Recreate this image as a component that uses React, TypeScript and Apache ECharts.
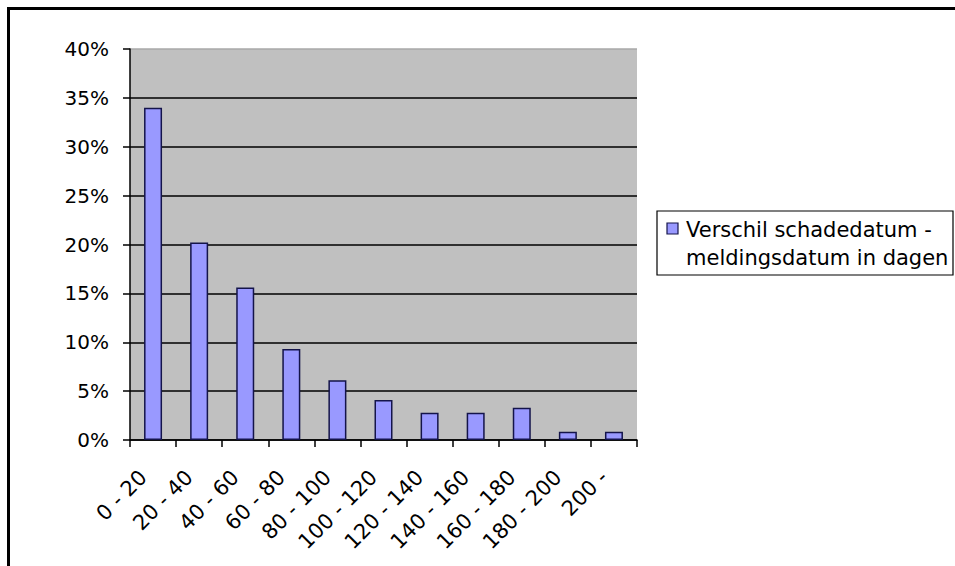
import React, { useEffect, useRef } from "react";
import * as echarts from "echarts";

// Day ranges between damage date and report date
const categories = [
  "0 - 20",
  "20 - 40",
  "40 - 60",
  "60 - 80",
  "80 - 100",
  "100 - 120",
  "120 - 140",
  "140 - 160",
  "160 - 180",
  "180 - 200",
  "200 -",
];

// Share of claims per range, in percent
const shares = [34, 20.2, 15.6, 9.3, 6.1, 4.1, 2.8, 2.8, 3.3, 0.85, 0.85];

const seriesName = "Verschil schadedatum - meldingsdatum in dagen";
const legendLines = ["Verschil schadedatum -", "meldingsdatum in dagen"];

const yMax = 40;
const yStep = 5;

const FONT = "DejaVu Sans";
const BAR_FILL = "#9999FF";
const BAR_EDGE = "#14144a";

export default function App() {
  const ref = useRef<HTMLDivElement>(null);

  useEffect(() => {
    if (!ref.current) return;
    const chart = echarts.init(ref.current, null, { renderer: "svg" });

    const gridLineColors = Array.from({ length: yMax / yStep + 1 }, (_, i) =>
      i === yMax / yStep ? "#a8a8a8" : "#000000"
    );

    chart.setOption({
      animation: false,
      backgroundColor: "#ffffff",
      grid: {
        left: 130,
        top: 49,
        right: 318,
        bottom: 126,
        show: true,
        backgroundColor: "#C0C0C0",
        borderWidth: 0,
        containLabel: false,
      },
      xAxis: {
        type: "category",
        data: categories,
        boundaryGap: true,
        axisLine: { show: true, lineStyle: { color: "#000", width: 1.5 } },
        axisTick: {
          show: true,
          length: 7,
          alignWithLabel: false,
          interval: 0,
          lineStyle: { color: "#000", width: 1.5 },
        },
        axisLabel: {
          interval: 0,
          rotate: 45,
          margin: 24,
          padding: [0, 14, 0, 0],
          fontFamily: FONT,
          fontSize: 21,
          color: "#000",
        },
        splitLine: { show: false },
      },
      yAxis: {
        type: "value",
        min: 0,
        max: yMax,
        interval: yStep,
        axisLine: { show: true, lineStyle: { color: "#000", width: 1.5 } },
        axisTick: { show: true, length: 7, lineStyle: { color: "#000", width: 1.5 } },
        axisLabel: {
          formatter: "{value}%",
          margin: 21,
          fontFamily: FONT,
          fontSize: 20,
          color: "#000",
        },
        splitLine: {
          show: true,
          lineStyle: { color: gridLineColors, width: 1.5 },
        },
      },
      series: [
        {
          name: seriesName,
          type: "bar",
          data: shares,
          barWidth: 18,
          itemStyle: {
            color: BAR_FILL,
            borderColor: BAR_EDGE,
            borderWidth: 1.5,
          },
        },
      ],
      graphic: [
        // chart frame (top and left edges)
        { type: "rect", shape: { x: 7, y: 7, width: 960, height: 3 }, style: { fill: "#000" }, silent: true },
        { type: "rect", shape: { x: 7, y: 7, width: 3, height: 570 }, style: { fill: "#000" }, silent: true },
        // legend box
        {
          type: "rect",
          shape: { x: 657, y: 211, width: 296, height: 64 },
          style: { fill: "#ffffff", stroke: "#000", lineWidth: 1.2 },
          silent: true,
        },
        {
          type: "rect",
          shape: { x: 667, y: 223, width: 11, height: 11 },
          style: { fill: BAR_FILL, stroke: BAR_EDGE, lineWidth: 1.2 },
          silent: true,
        },
        {
          type: "text",
          x: 686,
          y: 229.5,
          style: {
            text: legendLines[0],
            font: `21px "${FONT}"`,
            fill: "#000",
            textAlign: "left",
            textVerticalAlign: "middle",
          },
          silent: true,
        },
        {
          type: "text",
          x: 686,
          y: 257.5,
          style: {
            text: legendLines[1],
            font: `21px "${FONT}"`,
            fill: "#000",
            textAlign: "left",
            textVerticalAlign: "middle",
          },
          silent: true,
        },
      ],
    });

    return () => chart.dispose();
  }, []);

  return (
    <div
      ref={ref}
      style={{ position: "fixed", left: 0, top: 0, width: 955, height: 566 }}
    />
  );
}
